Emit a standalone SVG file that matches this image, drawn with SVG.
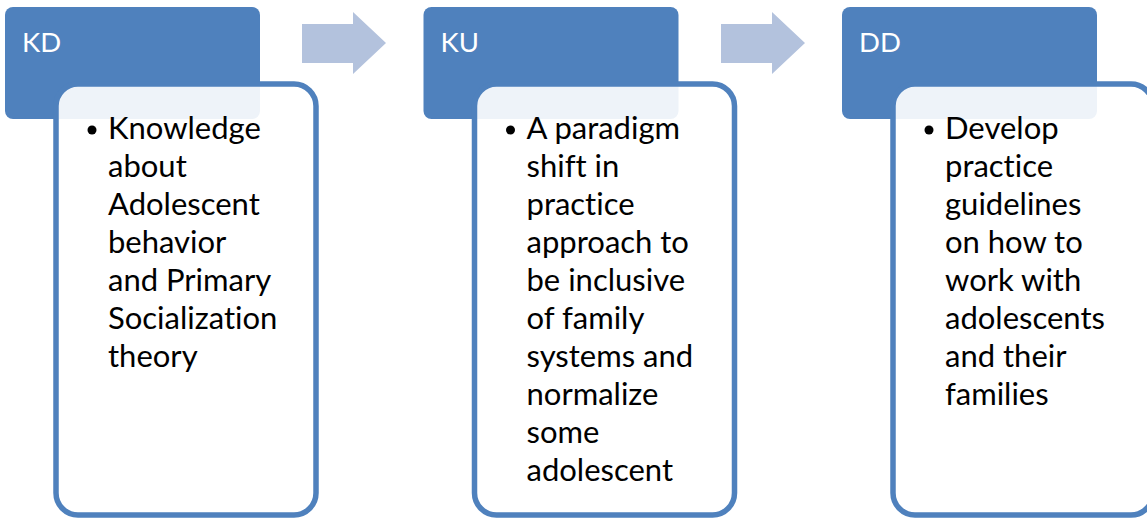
<svg xmlns="http://www.w3.org/2000/svg" width="1147" height="519" viewBox="0 0 1147 519">
<style>
.hdr{fill:#4F81BD}
.card{fill:#FFFFFF;fill-opacity:0.9;stroke:#4F81BD;stroke-width:5.5}
.arrow{fill:#B3C2DD}
.ht{font-family:Lato,"Liberation Sans",sans-serif;font-size:27.5px;fill:#FFFFFF}
.bt{font-family:Lato,"Liberation Sans",sans-serif;font-size:31px;fill:#000000;font-variant-ligatures:none;font-feature-settings:"liga" 0,"clig" 0}
.dot{fill:#000000}
</style>
<rect width="1147" height="519" fill="#FFFFFF"/>
<g id="connectors">
<polygon class="arrow" points="302,24 353,24 353,12 386,43 353,74 353,63 302,63"/>
<polygon class="arrow" points="721,24 772,24 772,12 805,43 772,74 772,63 721,63"/>
</g>
<g id="node-kd">
<rect class="hdr" x="5" y="7" width="255" height="112" rx="8"/>
<text class="ht" x="22" y="52">KD</text>
<rect class="card" x="56" y="84" width="260" height="431" rx="22"/>
<circle class="dot" cx="92" cy="130" r="4.5"/>
<text class="bt" x="108" y="139">Knowledge<tspan x="108" dy="38">about</tspan><tspan x="108" dy="38">Adolescent</tspan><tspan x="108" dy="38">behavior</tspan><tspan x="108" dy="38">and Primary</tspan><tspan x="108" dy="38">Socialization</tspan><tspan x="108" dy="38">theory</tspan></text>
</g>
<g id="node-ku">
<rect class="hdr" x="423.5" y="7" width="255" height="112" rx="8"/>
<text class="ht" x="440.5" y="52">KU</text>
<rect class="card" x="474.5" y="84" width="260" height="431" rx="22"/>
<circle class="dot" cx="510.5" cy="130" r="4.5"/>
<text class="bt" x="526.5" y="139">A paradigm<tspan x="526.5" dy="38">shift in</tspan><tspan x="526.5" dy="38">practice</tspan><tspan x="526.5" dy="38">approach to</tspan><tspan x="526.5" dy="38">be inclusive</tspan><tspan x="526.5" dy="38">of family</tspan><tspan x="526.5" dy="38">systems and</tspan><tspan x="526.5" dy="38">normalize</tspan><tspan x="526.5" dy="38">some</tspan><tspan x="526.5" dy="38">adolescent</tspan></text>
</g>
<g id="node-dd">
<rect class="hdr" x="842" y="7" width="255" height="112" rx="8"/>
<text class="ht" x="859" y="52">DD</text>
<rect class="card" x="893" y="84" width="260" height="431" rx="22"/>
<circle class="dot" cx="929" cy="130" r="4.5"/>
<text class="bt" x="945" y="139">Develop<tspan x="945" dy="38">practice</tspan><tspan x="945" dy="38">guidelines</tspan><tspan x="945" dy="38">on how to</tspan><tspan x="945" dy="38">work with</tspan><tspan x="945" dy="38">adolescents</tspan><tspan x="945" dy="38">and their</tspan><tspan x="945" dy="38">families</tspan></text>
</g>
</svg>
